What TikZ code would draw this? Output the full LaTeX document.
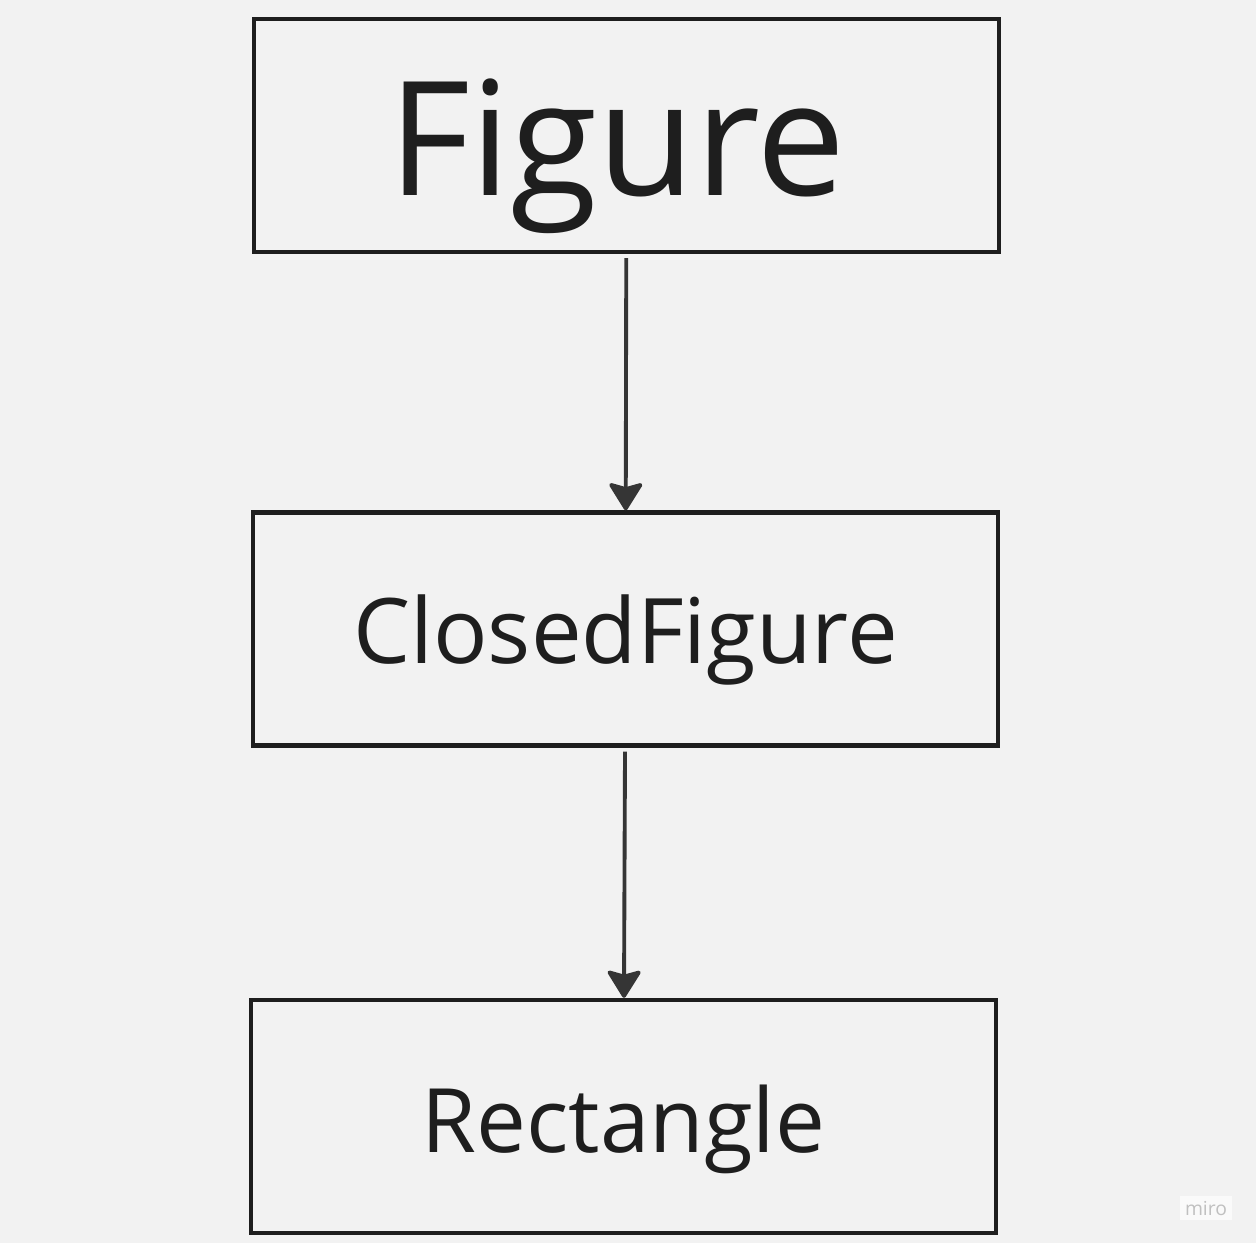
\documentclass[tikz,border=0pt]{standalone}
\usepackage{fontspec}
\setmainfont{Open Sans}
\usetikzlibrary{positioning, arrows.meta}
\definecolor{myInk}{RGB}{30,30,30}
\definecolor{myPaper}{RGB}{242,242,242}
\definecolor{myMark}{RGB}{192,192,192}
\begin{document}
\begin{tikzpicture}[
  x=0.02cm, y=-0.02cm,
  box/.style={draw=myInk, line width=2.5pt, minimum width=14.9cm,
    minimum height=4.66cm, text=myInk, text depth=0pt},
  arr/.style={draw=myInk!90!white, line width=2.2pt,
    -{Stealth[round, length=0.6cm, width=0.74cm, inset=0.1cm]}},
]
  \fill[myPaper] (0,0) rectangle (1256,1243);
  \node[box, font=\fontsize{90.5}{90.5}\selectfont, text height=2.42cm]
    (fig) at (626.5,135.5) {Figure\kern0.38cm};
  \node[box, font=\fontsize{51.5}{51.5}\selectfont, text height=1.36cm]
    (closed) at (625.5,629) {ClosedFigure};
  \node[box, font=\fontsize{50.6}{50.6}\selectfont, text height=1.42cm]
    (rect) at (623.5,1116.5) {Rectangle};
  \draw[arr, shorten <=0.08cm] (fig) -- (closed);
  \draw[arr, shorten <=0.08cm] (closed) -- (rect);
  % watermark
  \node[fill=white!60!myPaper, text=myMark, font=\fontsize{11}{11}\selectfont,
    inner sep=3pt] (mark) at (1206,1208) {miro};
\end{tikzpicture}
\end{document}
